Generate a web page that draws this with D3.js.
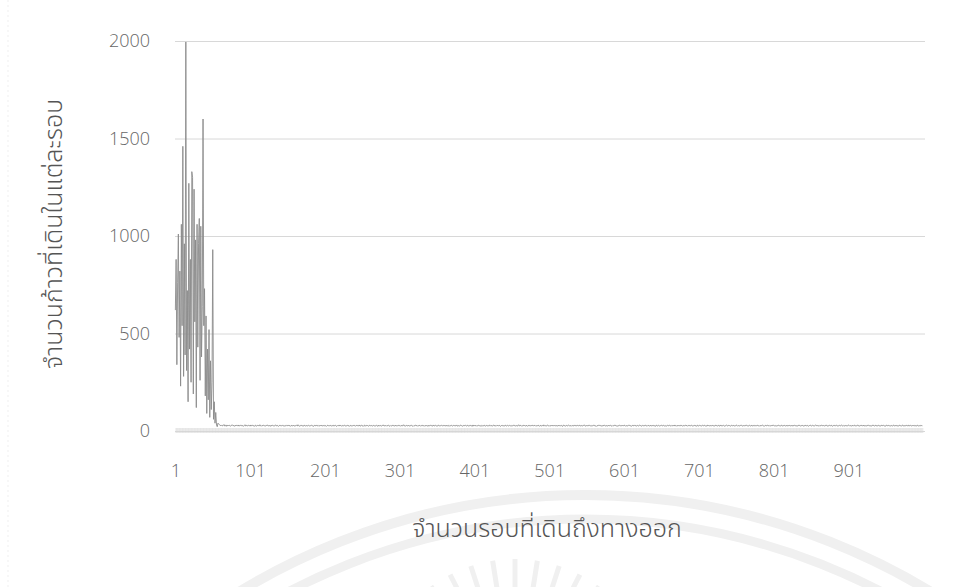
<!DOCTYPE html>
<html>
<head>
<meta charset="utf-8">
<script src="https://cdn.jsdelivr.net/npm/d3@7/dist/d3.min.js"></script>
<style>
  body { margin: 0; background: #ffffff; }
  svg { display: block; }
  .thai { font-family: "Noto Sans Thai", "Noto Sans Thai Looped", "Loma", "Garuda", "Tlwg Typo", "Noto Sans", sans-serif; font-weight: 300; }
  .num { font-family: "Open Sans", "Noto Sans", sans-serif; font-weight: 300; }
</style>
</head>
<body>
<svg id="chart" width="964" height="587"></svg>
<script>
// Steps taken per episode until the agent reaches the exit
const yTicks = [0, 500, 1000, 1500, 2000];
const xTickLabels = [1, 101, 201, 301, 401, 501, 601, 701, 801, 901];
const yTitle = "จำนวนก้าวที่เดินในแต่ละรอบ";
const xTitle = "จำนวนรอบที่เดินถึงทางออก";

// early exploration episodes (1–57)
const earlySteps = [
  620, 880, 340, 760, 1010, 480, 820, 230, 1060, 540,
  1460, 280, 960, 390, 1995, 310, 720, 150, 1270, 420,
  880, 250, 1330, 1300, 190, 1240, 560, 980, 120, 1060,
  430, 960, 1090, 260, 1050, 380, 640, 1600, 540, 730,
  180, 590, 90, 420, 160, 520, 70, 360, 110, 250,
  930, 60, 150, 40, 95, 30, 22
];

// converged episodes (58–1000)
const laterSteps = [
  40,35,32,29,27,31,26,28,33,26,29,24,31,27,28,30,26,25,29,32,27,28,24,30,26,29,27,31,25,28,
  29,26,30,27,24,28,32,25,29,27,26,30,28,25,31,27,29,26,28,24,30,27,25,29,28,26,32,27,25,29,
  27,30,26,28,25,29,31,26,27,28,24,30,26,29,27,25,28,31,26,29,27,24,28,30,26,27,29,25,28,26,
  28,25,29,27,31,26,28,24,29,27,26,30,25,28,27,29,26,32,27,25,28,26,29,27,24,30,28,26,27,29,
  26,29,27,25,28,30,26,27,24,29,28,26,31,27,25,29,26,28,27,30,25,28,26,29,27,24,28,30,26,27,
  29,27,26,28,25,30,27,29,26,24,28,27,31,26,29,25,28,27,26,30,28,25,27,29,26,28,24,29,27,26,
  27,28,30,26,25,29,27,28,26,31,25,27,29,26,28,24,30,27,26,29,28,25,27,30,26,28,27,25,29,26,
  28,26,29,27,24,30,26,28,27,25,29,31,26,27,28,25,29,26,30,27,24,28,26,29,27,28,25,30,26,27,
  26,30,27,28,25,29,26,27,32,26,28,25,29,27,26,30,25,28,27,29,26,24,28,27,30,26,29,25,27,28,
  29,25,28,26,30,27,25,29,26,28,27,24,30,26,29,27,28,25,31,26,27,29,26,28,25,30,27,26,28,29,
  27,26,29,28,25,30,26,27,29,24,28,26,30,27,25,29,28,26,27,31,25,28,27,26,29,30,26,25,28,27,
  28,29,26,27,30,25,28,26,29,27,24,31,26,28,27,29,25,26,30,28,27,26,29,24,28,27,30,26,25,29,
  26,28,27,30,25,29,27,26,28,31,26,27,25,29,28,26,30,27,24,28,29,26,27,25,30,28,26,29,27,26,
  29,27,25,28,26,30,27,29,26,28,25,27,32,26,28,29,25,27,26,30,28,26,27,29,24,28,30,26,27,28,
  27,30,26,28,29,25,27,26,30,28,24,29,27,26,28,31,25,29,27,26,28,30,27,25,29,26,28,27,30,26,
  28,26,29,27,25,30,26,28,27,29,26,24,30,28,27,25,29,26,28,30,27,26,29,25,28,27,26,31,27,28,
  26,29,27,28,30,25,28,26,27,29,31,26,25,28,27,30,26,29,27,25,28,26,30,27,29,26,24,28,27,29,
  29,27,28,26,25,30,27,29,26,28,27,25,30,26,28,29,27,24,28,26,30,27,29,26,25,28,27,30,26,28,
  27,28,26,30,29,25,27,28,26,29,30,26,27,25,28,29,26,31,27,28,25,29,26,27,30,28,26,25,29,27,
  28,26,30,27,25,29,28,26,27,30,25,28,29,26,27,24,30,28,26,29,27,25,28,30,26,27,29,26,28,25,
  26,29,27,28,30,26,25,29,27,28,26,31,27,25,29,26,28,27,30,26,29,25,27,28,26,30,27,29,25,28,
  29,27,26,30,28,25,27,29,26,28,24,30,27,26,29,28,25,27,30,26,28,29,26,27,25,30,28,26,29,27,
  27,28,29,26,25,30,27,28,26,29,27,25,31,26,28,27,29,26,25,28,30,27,26,29,28,25,27,30,26,28,
  28,26,27,30,29,25,28,26,27,29,30,26,25,28,27,29,26,30,27,25,28,29,26,27,30,25,28,26,29,27,
  26,30,28,27,25,29,26,28,30,27,26,25,29,28,27,30,26,29,25,27,28,26,30,29,27,25,28,26,27,29,
  29,27,26,28,30,25,27,29,28,26,27,30,25,28,29,26,27,28,25,30,26,29,27,28,26,25,30,27,29,26,
  27,29,28,26,25,30,28,27,29,26,25,28,30,27,26,29,28,25,27,30,29,26,28,27,25,29,26,30,28,27,
  28,26,29,27,30,25,26,28,29,27,30,26,25,28,27,29,26,30,28,25,27,29,26,28,30,27,25,29,26,28,
  26,28,27,30,29,25,28,26,27,29,25,30,28,26,27,29,30,25,26,28,27,29,26,30,25,28,27,26,29,28,
  29,27,28,26,25,30,27,29,26,28,30,25,27,29,28,26,25,30,27,28,29,26,27,25,30,28,26,29,27,26,
  27,28,26,29,30,25,28,27,29,26,25,30,28,27,26,29,30,25,27,28,26,29,27,30,25,28,29,26,27,28,
  28,26,29,27,25,30,28,26,27,29,26,28,27
];

const steps = earlySteps.concat(laterSteps);
const episodes = steps.map((d, i) => i + 1);

const svg = d3.select("#chart");

const x = d3.scaleLinear().domain([0.5, 1003.5]).range([175, 925]);
const y = d3.scaleLinear().domain([0, 2000]).range([431, 41]);

// faint page seal behind the chart
const seal = svg.append("g").attr("fill", "none").attr("stroke", "#f0f0f0");
seal.append("circle").attr("cx", 585).attr("cy", 1160).attr("r", 665).attr("stroke-width", 10);
seal.append("circle").attr("cx", 585).attr("cy", 1160).attr("r", 641).attr("stroke-width", 9);
const rayAngles = [-126, -117, -108, -99, -90, -81, -72, -63, -54];
seal.selectAll("line.ray").data(rayAngles).join("line")
  .attr("class", "ray")
  .attr("x1", a => 515 + 112 * Math.cos(a * Math.PI / 180))
  .attr("y1", a => 702 + 112 * Math.sin(a * Math.PI / 180))
  .attr("x2", a => 515 + 143 * Math.cos(a * Math.PI / 180))
  .attr("y2", a => 702 + 143 * Math.sin(a * Math.PI / 180))
  .attr("stroke-width", 5);

// page edge
svg.append("line").attr("x1", 8).attr("x2", 8).attr("y1", 0).attr("y2", 587)
  .attr("stroke", "#efefef").attr("stroke-dasharray", "2,3");

// horizontal gridlines
const grid = svg.append("g")
  .attr("transform", "translate(175,0)")
  .call(d3.axisLeft(y).tickValues(yTicks).tickSize(-750).tickFormat(""));
grid.select(".domain").remove();
grid.selectAll(".tick line").attr("stroke", "#d8d8d8").attr("stroke-width", 1);

// category tick marks along the horizontal axis
const catAxis = svg.append("g")
  .attr("transform", "translate(0,428)")
  .call(d3.axisBottom(x).tickValues(episodes).tickSize(5).tickFormat(""));
catAxis.select(".domain").remove();
catAxis.selectAll(".tick line").attr("stroke", "#d6d6d6").attr("stroke-width", 0.5);

// horizontal axis labels
const xAxis = svg.append("g")
  .attr("transform", `translate(0,${y(0)})`)
  .call(d3.axisBottom(x).tickValues(xTickLabels).tickSize(0).tickPadding(33).tickFormat(d3.format("d")));
xAxis.select(".domain").remove();
xAxis.selectAll("text").attr("class", "num").attr("font-size", 18).attr("fill", "#666");

// vertical axis labels
const yAxis = svg.append("g")
  .attr("transform", "translate(152,0)")
  .call(d3.axisLeft(y).tickValues(yTicks).tickSize(0).tickPadding(2).tickFormat(d3.format("d")));
yAxis.select(".domain").remove();
yAxis.selectAll("text").attr("class", "num").attr("font-size", 18).attr("fill", "#666");

// steps per episode
const line = d3.line()
  .x((d, i) => x(episodes[i]))
  .y(d => y(d));
svg.append("path")
  .datum(steps)
  .attr("fill", "none")
  .attr("stroke", "#8a8a8a")
  .attr("stroke-width", 0.9)
  .attr("d", line);

// axis titles
svg.append("text")
  .attr("class", "thai")
  .attr("transform", "translate(62,234) rotate(-90)")
  .attr("text-anchor", "middle")
  .attr("font-size", 25)
  .attr("fill", "#555")
  .text(yTitle);

svg.append("text")
  .attr("class", "thai")
  .attr("x", 547)
  .attr("y", 537)
  .attr("text-anchor", "middle")
  .attr("font-size", 25)
  .attr("fill", "#555")
  .text(xTitle);
</script>
</body>
</html>
